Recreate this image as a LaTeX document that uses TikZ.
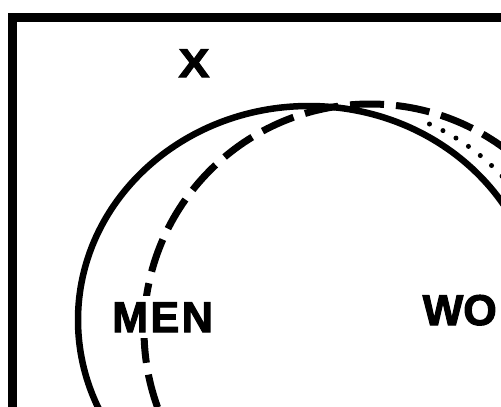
\documentclass[tikz,border=0pt]{standalone}
\usepackage{fontspec}
\newfontfamily\labfont[FakeBold=2.5]{Liberation Sans}
\begin{document}
\begin{tikzpicture}[x=1pt,y=-1pt,
  frame/.style={line width=9pt},
  solidring/.style={line width=6.5pt},
  dashring/.style={line width=7pt, dash pattern=on 34pt off 12pt, dash phase=27pt},
  dotring/.style={line width=5pt, line cap=round, dash pattern=on 0pt off 15pt},
  lab/.style={font=\labfont\bfseries\fontsize{43}{43}\selectfont, inner sep=0pt},
  labx/.style={font=\labfont\bfseries\fontsize{40}{40}\selectfont, inner sep=0pt}]
\useasboundingbox (0,0) rectangle (501,407);
\clip (0,0) rectangle (501,407);
\fill[white] (0,0) rectangle (501,407);
\draw[frame] (12.5,17) rectangle (540,450);
\draw[solidring] (309,320) ellipse [x radius=231pt, y radius=214pt];
\draw[dashring] (370,330) circle [radius=226pt];
\draw[dotring] (340,325) ++(66:220pt) arc [start angle=66, end angle=35, radius=220pt];
\node[labx, anchor=base] (x) at (194,77) {\scalebox{1.15}[1]{X}};
\node[lab, fill=white, inner xsep=4pt, inner ysep=6pt, anchor=base west] (men) at (108,332) {\addfontfeature{LetterSpace=6}MEN};
\node[lab, anchor=base west] (wo) at (422.5,325) {WO};
\end{tikzpicture}
\end{document}
